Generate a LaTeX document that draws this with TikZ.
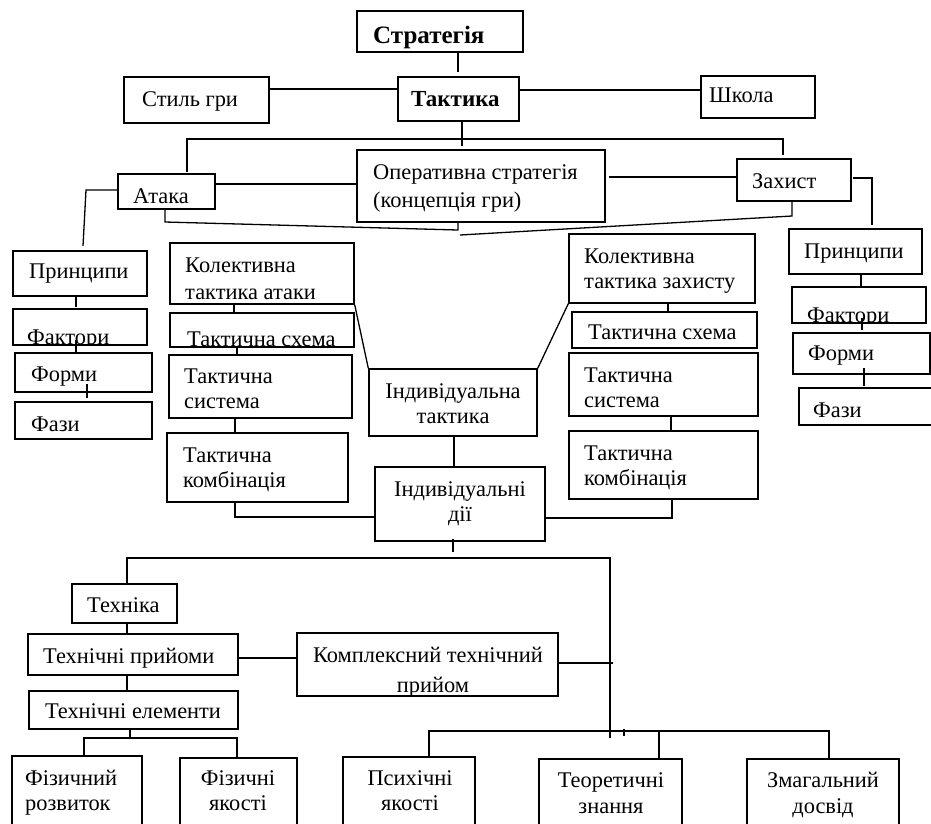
\documentclass[tikz,border=0pt]{standalone}
\usepackage{fontspec}
\setmainfont{Liberation Serif}
\usetikzlibrary{fit}
\newcommand\Bx[5]{\node[box, fit={(#2,#3)(#4,#5)}] (#1) {};}
\begin{document}
\begin{tikzpicture}[x=1pt,y=-1pt,
  box/.style={draw, line width=1.4pt, inner sep=0pt},
  ln/.style={line width=1.3pt},
  tx/.style={inner sep=0pt, anchor=base west, font=\fontsize{22.4}{26}\selectfont},
  tc/.style={inner sep=0pt, anchor=base, font=\fontsize{22.4}{26}\selectfont},
  bold/.style={font=\bfseries\fontsize{23}{26}\selectfont}]
\useasboundingbox (0,0) rectangle (931,823);
% boxes
\Bx{strat}{357}{11}{523}{52}
\Bx{tak}{398}{77}{519}{121}
\Bx{stil}{124}{77}{269}{123}
\Bx{shk}{701}{76}{815}{118}
\Bx{oper}{357}{150}{605}{222}
\Bx{ataka}{118}{174}{215}{209}
\Bx{zah}{737}{159}{851}{201}
\Bx{prL}{13}{251}{147}{296}
\Bx{faL}{13}{309}{147}{345}
\Bx{foL}{15}{353}{152}{392}
\Bx{fzL}{15}{402}{152}{439}
\Bx{kolA}{170}{243}{354}{304}
\Bx{tsA}{170}{313}{354}{347}
\Bx{sysA}{169}{355}{352}{418}
\Bx{kmA}{167}{433}{348}{502}
\Bx{indT}{369}{369}{537}{436}
\Bx{indD}{375}{467}{545}{541}
\Bx{kolZ}{569}{234}{755}{303}
\Bx{tsZ}{572}{312}{757}{348}
\Bx{sysZ}{569}{353}{758}{416}
\Bx{kmZ}{569}{431}{758}{499}
\Bx{prR}{789}{229}{922}{274}
\Bx{faR}{792}{287}{926}{323}
\Bx{foR}{793}{333}{930}{374}
\Bx{fzR}{799}{388}{940}{425}
\Bx{tech}{72}{584}{177}{623}
\Bx{tpr}{28}{634}{238}{675}
\Bx{kompl}{297}{633}{558}{696}
\Bx{tel}{29}{691}{238}{729}
\Bx{fr}{12}{756}{142}{835}
\Bx{fy}{180}{758}{297}{835}
\Bx{py}{343}{757}{475}{835}
\Bx{tz}{539}{759}{682}{835}
\Bx{zd}{747}{759}{899}{835}
% texts
\node[tx, font=\bfseries\fontsize{25}{28}\selectfont] (strat-t) at (373,43) {Стратегія};
\node[tx, bold] (tak-t) at (411,106) {Тактика};
\node[tx] (stil-t) at (142,106) {Стиль гри};
\node[tx] (shk-t) at (709,102) {Школа};
\node[tx] (oper-t1) at (373,179) {Оперативна стратегія};
\node[tx] (oper-t2) at (373,207) {(концепція гри)};
\node[tx] (ataka-t) at (133,203) {Атака};
\node[tx] (zah-t) at (752,188) {Захист};
\node[tx] (prL-t) at (29,278) {Принципи};
\begin{scope}\clip (13,309) rectangle (147,345);
\node[tx] (faL-t) at (27,344) {Фактори};
\end{scope}
\node[tx] (foL-t) at (31,381) {Форми};
\node[tx] (fzL-t) at (31,431) {Фази};
\node[tx] (kolA-t1) at (185,272) {Колективна};
\begin{scope}\clip (170,243) rectangle (354,304);
\node[tx] (kolA-t2) at (185,299) {тактика атаки};
\end{scope}
\begin{scope}\clip (170,313) rectangle (354,347);
\node[tx] (tsA-t) at (187,346) {Тактична схема};
\end{scope}
\node[tx] (sysA-t1) at (184,383) {Тактична};
\node[tx] (sysA-t2) at (184,408) {система};
\node[tx] (kmA-t1) at (183,462) {Тактична};
\node[tx] (kmA-t2) at (183,487) {комбінація};
\node[tc] (indT-t1) at (453,398) {Індивідуальна};
\node[tc] (indT-t2) at (453,423) {тактика};
\node[tc] (indD-t1) at (460,496) {Індивідуальні};
\node[tc] (indD-t2) at (460,521) {дії};
\node[tx] (kolZ-t1) at (584,263) {Колективна};
\node[tx] (kolZ-t2) at (584,288) {тактика захисту};
\node[tx] (tsZ-t) at (588,339) {Тактична схема};
\node[tx] (sysZ-t1) at (584,382) {Тактична};
\node[tx] (sysZ-t2) at (584,407) {система};
\node[tx] (kmZ-t1) at (584,460) {Тактична};
\node[tx] (kmZ-t2) at (584,485) {комбінація};
\node[tx] (prR-t) at (804,258) {Принципи};
\begin{scope}\clip (792,287) rectangle (926,323);
\node[tx] (faR-t) at (807,322) {Фактори};
\end{scope}
\node[tx] (foR-t) at (808,360) {Форми};
\node[tx] (fzR-t) at (813,417) {Фази};
\node[tx] (tech-t) at (87,612) {Техніка};
\node[tx] (tpr-t) at (43,663) {Технічні прийоми};
\node[tc] (kompl-t1) at (428,662) {Комплексний технічний};
\begin{scope}\clip (297,633) rectangle (558,696);
\node[tc] (kompl-t2) at (433,692) {прийом};
\end{scope}
\node[tc] (tel-t) at (133,718) {Технічні елементи};
\node[tx] (fr-t1) at (25,785) {Фізичний};
\node[tx] (fr-t2) at (25,810) {розвиток};
\node[tc] (fy-t1) at (238,785) {Фізичні};
\node[tc] (fy-t2) at (238,810) {якості};
\node[tc] (py-t1) at (410,785) {Психічні};
\node[tc] (py-t2) at (410,810) {якості};
\node[tc] (tz-t1) at (611,787) {Теоретичні};
\node[tc] (tz-t2) at (611,813) {знання};
\node[tc] (zd-t1) at (823,787) {Змагальний};
\node[tc] (zd-t2) at (823,813) {досвід};
% connectors
\draw[ln] (strat.south -| 458,0) -- (458,72);
\draw[ln] (stil.east |- 0,89) -- (tak.west |- 0,89);
\draw[ln] (tak.east |- 0,90) -- (shk.west |- 0,90);
\draw[ln] (tak.south -| 462,0) -- (462,146);
\coordinate (hl) at (187,139);
\coordinate (hr) at (783,139);
\draw[ln] (187,172) -- (hl) -- (hr) -- (783,155);
\draw[ln] (ataka.east |- 0,184) -- (oper.west |- 0,184);
\draw[ln] (609,177) -- (zah.west |- 0,177);
\draw[ln] (ataka.west |- 0,190) -- (86,190) -- (83,246);
\draw[ln] (ataka.south -| 165,0) -- (165,222) -- (458,230) -- (oper.south -| 458,0);
\draw[ln] (460,235) -- (792,216) -- (zah.south -| 792,0);
\draw[ln] (853,178) -- (872,178) -- (872,225);
\draw[ln] (prL.south -| 76,0) -- (76,307);
\draw[ln] (76,340) -- (76,352);
\draw[ln] (87,384) -- (87,398);
\draw[ln] (prR.south -| 861,0) -- (faR.north -| 861,0);
\draw[ln] (862,318) -- (862,330);
\draw[ln] (864,368) -- (864,386);
\draw[ln] (kolA.south -| 234,0) -- (tsA.north -| 234,0);
\draw[ln] (tsA.south -| 237,0) -- (sysA.north -| 237,0);
\draw[ln] (sysA.south -| 235,0) -- (kmA.north -| 235,0);
\draw[ln] (kolZ.south -| 668,0) -- (tsZ.north -| 668,0);
\draw[ln] (sysZ.south -| 671,0) -- (kmZ.north -| 671,0);
\draw[ln] (kolA.south east) -- (indT.north west);
\draw[ln] (kolZ.south west) -- (indT.north east);
\draw[ln] (indT.south -| 454,0) -- (indD.north -| 454,0);
\draw[ln] (kmA.south -| 235,0) -- (235,517) -- (indD.west |- 0,517);
\draw[ln] (kmZ.south -| 672,0) -- (672,518) -- (indD.east |- 0,518);
\draw[ln] (453,539) -- (453,552);
\draw[ln] (tech.north -| 127,0) -- (127,558) -- (610,558) -- (610,738);
\draw[ln] (tech.south -| 127,0) -- (tpr.north -| 127,0);
\draw[ln] (tpr.east |- 0,658) -- (kompl.west |- 0,658);
\draw[ln] (kompl.east |- 0,663) -- (613,663);
\draw[ln] (tpr.south -| 127,0) -- (tel.north -| 127,0);
\draw[ln] (tel.south -| 130,0) -- (130,738);
\draw[ln] (fr.north -| 84,0) -- (84,738) -- (237,738) -- (fy.north -| 237,0);
\draw[ln] (py.north -| 429,0) -- (429,731) -- (829,731) -- (zd.north -| 829,0);
\draw[ln] (659,731) -- (tz.north -| 659,0);
\draw[ln] (624,729) -- (624,736);
\end{tikzpicture}
\end{document}
